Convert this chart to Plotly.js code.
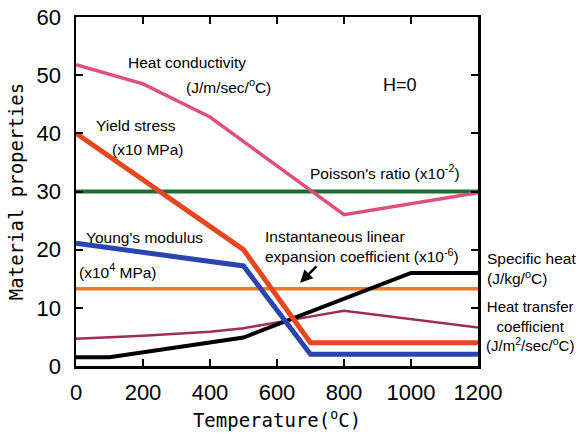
<!DOCTYPE html>
<html>
<head>
<meta charset="utf-8">
<script src="https://cdn.plot.ly/plotly-3.0.1.min.js"></script>
<style>html,body{margin:0;padding:0;background:#fff;}#chart{width:579px;height:439px;}</style>
</head>
<body>
<div id="chart"></div>
<script>
// Temperature (°C) breakpoints and values for each property
const heatCondT = [0, 200, 400, 800, 1200];
const heatCondV = [51.8, 48.5, 42.8, 26.0, 29.8];

const yieldT = [0, 500, 700, 1200];
const yieldV = [40, 20, 4, 4];

const youngT = [0, 500, 700, 1200];
const youngV = [21.1, 17.2, 2.0, 2.0];

const poissonT = [0, 1200];
const poissonV = [30, 30];

const expansionT = [0, 1200];
const expansionV = [13.3, 13.3];

const heatTransT = [0, 200, 400, 500, 600, 800, 1200];
const heatTransV = [4.7, 5.2, 5.9, 6.5, 7.5, 9.5, 6.6];

const specHeatT = [0, 100, 500, 1000, 1200];
const specHeatV = [1.5, 1.5, 4.9, 16.0, 16.0];

const xTicks = [0, 200, 400, 600, 800, 1000, 1200];
const yTicks = [0, 10, 20, 30, 40, 50, 60];

function line(x, y, color, width) {
  return {x: x, y: y, type: 'scatter', mode: 'lines', line: {color: color, width: width}, hoverinfo: 'skip', showlegend: false, cliponaxis: false};
}

const traces = [
  line(poissonT, poissonV, '#1f6b35', 4),
  line(expansionT, expansionV, '#f07a2a', 3.5),
  line(heatTransT, heatTransV, '#a02a5a', 2.5),
  line(heatCondT, heatCondV, '#e04e7c', 3.5),
  line(specHeatT, specHeatV, '#000000', 4),
  line(youngT, youngV, '#2b45b0', 5),
  line(yieldT, yieldV, '#e8461e', 5)
];

const txtFont = {family: 'Liberation Sans, Arial, sans-serif', size: 15.5, color: '#000'};

function ann(text, x, y, extra) {
  return Object.assign({text: text, x: x, y: y, xref: 'x', yref: 'y', showarrow: false, font: txtFont}, extra || {});
}

const annotations = [
  ann('Heat conductivity', 331, 52.2),
  ann('(J/m/sec/<sup>o</sup>C)', 454, 48.2),
  ann('H=0', 967, 48.3, {font: {family: 'Liberation Sans, Arial, sans-serif', size: 18, color: '#000'}}),
  ann('Yield stress', 179, 41.4),
  ann('(x10 MPa)', 215, 37.3),
  ann("Poisson's ratio (x10<sup>-2</sup>)", 922, 33.3),
  ann("Young's modulus", 204, 22.1),
  ann('(x10<sup>4</sup> MPa)', 124, 16.3),
  ann('Instantaneous linear<br>expansion coefficient (x10<sup>-6</sup>)', 558, 20.5, {xanchor: 'left', align: 'left'}),
  {x: 669, y: 14.3, ax: 722, ay: 17.4, xref: 'x', yref: 'y', axref: 'x', ayref: 'y', text: '', showarrow: true, arrowhead: 2, arrowsize: 1, arrowwidth: 2.5, arrowcolor: '#000'},
  {text: 'Specific heat<br>(J/kg/<sup>o</sup>C)', xref: 'paper', yref: 'y', x: 1.018, y: 16.7, xanchor: 'left', align: 'left', showarrow: false, font: txtFont},
  {text: 'Heat transfer<br>coefficient<br>(J/m<sup>2</sup>/sec/<sup>o</sup>C)', xref: 'paper', yref: 'y', x: 1.13, y: 6.8, xanchor: 'center', align: 'center', showarrow: false, font: {family: 'Liberation Sans, Arial, sans-serif', size: 15, color: '#000'}}
];

const layout = {
  width: 579, height: 439,
  margin: {l: 76, r: 101, t: 17, b: 73, pad: 0},
  paper_bgcolor: '#ffffff', plot_bgcolor: '#ffffff',
  showlegend: false,
  xaxis: {
    range: [0, 1200], tickvals: xTicks, ticktext: xTicks.map(String),
    showgrid: false, zeroline: false, showline: true, mirror: 'ticks',
    linecolor: '#000', linewidth: 2.5, ticks: 'inside', ticklen: 7, tickwidth: 2, tickcolor: '#000',
    tickfont: {family: 'Liberation Sans Narrow, Arial Narrow, Liberation Sans, sans-serif', size: 22, color: '#000'},
    ticklabelstandoff: 5,
    title: {text: 'Temperature(<sup>o</sup>C)', font: {family: 'DejaVu Sans Mono, monospace', size: 19, color: '#000'}, standoff: 10}
  },
  yaxis: {
    range: [0, 60], tickvals: yTicks, ticktext: yTicks.map(String),
    showgrid: false, zeroline: false, showline: true, mirror: 'ticks',
    linecolor: '#000', linewidth: 2.5, ticks: 'inside', ticklen: 7, tickwidth: 2, tickcolor: '#000',
    tickfont: {family: 'Liberation Sans Narrow, Arial Narrow, Liberation Sans, sans-serif', size: 22, color: '#000'},
    ticklabelstandoff: 8,
    title: {text: 'Material properties', font: {family: 'DejaVu Sans Mono, monospace', size: 19, color: '#000'}, standoff: 8}
  },
  annotations: annotations
};

Plotly.newPlot('chart', traces, layout, {staticPlot: true, displayModeBar: false});
</script>
</body>
</html>
